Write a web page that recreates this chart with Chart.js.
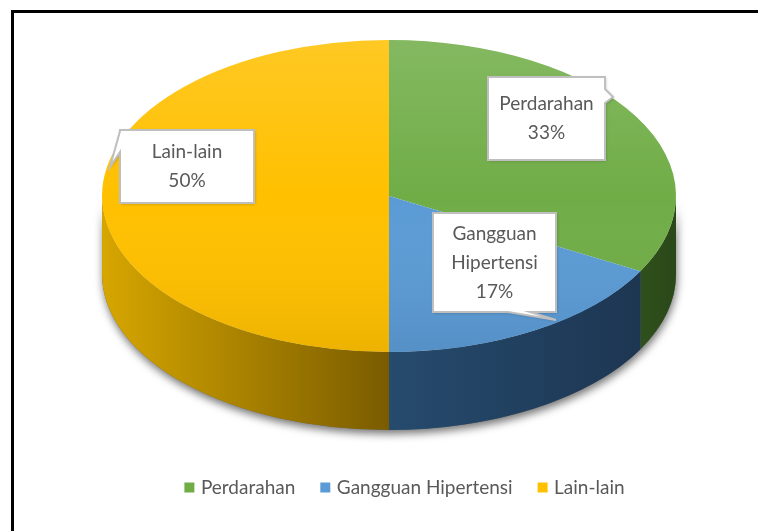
<!DOCTYPE html>
<html>
<head>
<meta charset="utf-8">
<script src="https://cdn.jsdelivr.net/npm/chart.js@4.4.0/dist/chart.umd.min.js"></script>
<style>
  html, body { margin: 0; padding: 0; background: #fff; overflow: hidden; }
  #wrap { position: relative; width: 758px; height: 531px; }
  #pie-chart { position: absolute; left: 0; top: 0; }
  #frame { position: absolute; left: 11px; top: 10px; width: 800px; height: 600px;
           border-left: 3px solid #000; border-top: 3px solid #000; }
</style>
</head>
<body>
<div id="wrap">
  <canvas id="pie-chart" width="758" height="531"></canvas>
  <div id="frame"></div>
</div>
<script>
// data
var labelSet = ['Perdarahan', 'Gangguan Hipertensi', 'Lain-lain'];
var percentData = [33, 17, 50];

// colours (top face, side wall left -> right)
var topColors = ['#70ad47', '#5b9bd5', '#ffc000'];
var sideColors = [['#2f501c', '#2a4818'], ['#264b6e', '#1d3652'], ['#d6a600', '#7a5c00']];

// 3d look
var PIE_RADIUS = 287;
var PIE_CX = 389;
var PIE_CY = 196;
var SQUASH = 156 / 287;
var DEPTH = 78;

// callout boxes (layout only)
var calloutBoxes = [
	{x: 488, y: 77, w: 117, h: 83, tail: {edge: 'right', a: 89, b: 103, tip: [613, 97]}},
	{x: 433, y: 213, w: 123, h: 99, tail: {edge: 'bottom', a: 508, b: 530, tip: [556, 320]}},
	{x: 120, y: 130, w: 134, h: 73, tail: {edge: 'left', a: 131, b: 152, tip: [110, 167]}}
];

var FONT = 'Lato, "Liberation Sans", sans-serif';

function wallPath(ctx, cx, cy, R, ry, a0, a1) {
	ctx.beginPath();
	ctx.ellipse(cx, cy, R, ry, 0, a0, a1);
	ctx.ellipse(cx, cy + DEPTH, R, ry, 0, a1, a0, true);
	ctx.closePath();
}

function calloutPath(ctx, box) {
	var t = box.tail;
	var x0 = box.x, y0 = box.y, x1 = box.x + box.w, y1 = box.y + box.h;
	ctx.beginPath();
	ctx.moveTo(x0, y0);
	ctx.lineTo(x1, y0);
	if (t.edge === 'right') {
		ctx.lineTo(x1, t.a); ctx.lineTo(t.tip[0], t.tip[1]); ctx.lineTo(x1, t.b);
	}
	ctx.lineTo(x1, y1);
	if (t.edge === 'bottom') {
		ctx.lineTo(t.b, y1); ctx.lineTo(t.tip[0], t.tip[1]); ctx.lineTo(t.a, y1);
	}
	ctx.lineTo(x0, y1);
	if (t.edge === 'left') {
		ctx.lineTo(x0, t.b); ctx.lineTo(t.tip[0], t.tip[1]); ctx.lineTo(x0, t.a);
	}
	ctx.closePath();
}

function wrapText(ctx, text, maxWidth) {
	var words = text.split(' ');
	var lines = [];
	var cur = '';
	for (var i = 0; i < words.length; i++) {
		var test = cur ? cur + ' ' + words[i] : words[i];
		if (cur && ctx.measureText(test).width > maxWidth) {
			lines.push(cur);
			cur = words[i];
		} else {
			cur = test;
		}
	}
	lines.push(cur);
	return lines;
}

var pie3d = {
	id: 'pie3d',
	beforeDatasetsDraw: function(chart) {
		var ctx = chart.ctx;
		var meta = chart.getDatasetMeta(0);
		var first = meta.data[0];
		var R = first.outerRadius;
		var ry = R * SQUASH;

		// drop shadow under the wall
		ctx.save();
		ctx.shadowColor = 'rgba(0,0,0,0.55)';
		ctx.shadowBlur = 8;
		ctx.shadowOffsetX = 1;
		ctx.shadowOffsetY = 4;
		ctx.fillStyle = '#666';
		wallPath(ctx, PIE_CX, PIE_CY, R, ry, 0, Math.PI);
		ctx.fill();
		ctx.restore();

		// side walls, only the front half shows
		for (var i = 0; i < meta.data.length; i++) {
			var arc = meta.data[i];
			var a0 = Math.max(arc.startAngle, 0);
			var a1 = Math.min(arc.endAngle, Math.PI);
			if (a1 <= a0) continue;
			var xa = PIE_CX + R * Math.cos(a1), xb = PIE_CX + R * Math.cos(a0);
			var grad = ctx.createLinearGradient(Math.min(xa, xb), 0, Math.max(xa, xb), 0);
			grad.addColorStop(0, sideColors[i][0]);
			grad.addColorStop(1, sideColors[i][1]);
			ctx.fillStyle = grad;
			wallPath(ctx, PIE_CX, PIE_CY, R, ry, a0, a1);
			ctx.fill();
		}

		// squash the round pie into the top face
		ctx.save();
		ctx.translate(PIE_CX, PIE_CY);
		ctx.scale(1, SQUASH);
		ctx.translate(-first.x, -first.y);
	},
	afterDatasetsDraw: function(chart) {
		var ctx = chart.ctx;
		ctx.restore();
		var meta = chart.getDatasetMeta(0);
		var R = meta.data[0].outerRadius;
		var ry = R * SQUASH;

		// soft light on the top face
		var g = ctx.createLinearGradient(0, PIE_CY - ry, 0, PIE_CY + ry);
		g.addColorStop(0, 'rgba(255,255,255,0.14)');
		g.addColorStop(0.5, 'rgba(255,255,255,0)');
		g.addColorStop(1, 'rgba(0,0,0,0.07)');
		ctx.fillStyle = g;
		ctx.beginPath();
		ctx.ellipse(PIE_CX, PIE_CY, R, ry, 0, 0, Math.PI * 2);
		ctx.fill();

		// callouts
		var data = chart.data.datasets[0].data;
		var total = 0;
		for (var i = 0; i < data.length; i++) total += data[i];
		ctx.font = '19px ' + FONT;
		for (var i = 0; i < calloutBoxes.length; i++) {
			var box = calloutBoxes[i];
			ctx.save();
			ctx.shadowColor = 'rgba(0,0,0,0.25)';
			ctx.shadowBlur = 3;
			ctx.shadowOffsetX = 1;
			ctx.shadowOffsetY = 1;
			calloutPath(ctx, box);
			ctx.fillStyle = '#fff';
			ctx.fill();
			ctx.restore();
			calloutPath(ctx, box);
			ctx.strokeStyle = '#bfbfbf';
			ctx.lineWidth = 2;
			ctx.stroke();

			var lines = wrapText(ctx, chart.data.labels[i], box.w - 20);
			lines.push(Math.round(data[i] / total * 100) + '%');
			var lh = 29;
			var ymid = box.y + box.h / 2;
			ctx.fillStyle = '#595959';
			ctx.textAlign = 'center';
			ctx.textBaseline = 'middle';
			for (var j = 0; j < lines.length; j++) {
				ctx.fillText(lines[j], box.x + box.w / 2, ymid + (j - (lines.length - 1) / 2) * lh);
			}
		}
	}
};

var ctx = document.getElementById('pie-chart').getContext('2d');
var chart = new Chart(ctx, {
	type: 'pie',
	data: {
		labels: labelSet,
		datasets: [{
			data: percentData,
			backgroundColor: topColors,
			borderWidth: 0,
			radius: PIE_RADIUS,
			clip: false
		}]
	},
	options: {
		responsive: false,
		animation: false,
		events: [],
		layout: {padding: {left: 54, right: 0, top: 0, bottom: 24}},
		plugins: {
			tooltip: {enabled: false},
			legend: {
				position: 'bottom',
				labels: {
					usePointStyle: true,
					pointStyle: 'rect',
					boxWidth: 4,
					boxHeight: 10,
					padding: 28,
					color: '#595959',
					font: {family: FONT, size: 19}
				}
			}
		}
	},
	plugins: [pie3d]
});
</script>
</body>
</html>
